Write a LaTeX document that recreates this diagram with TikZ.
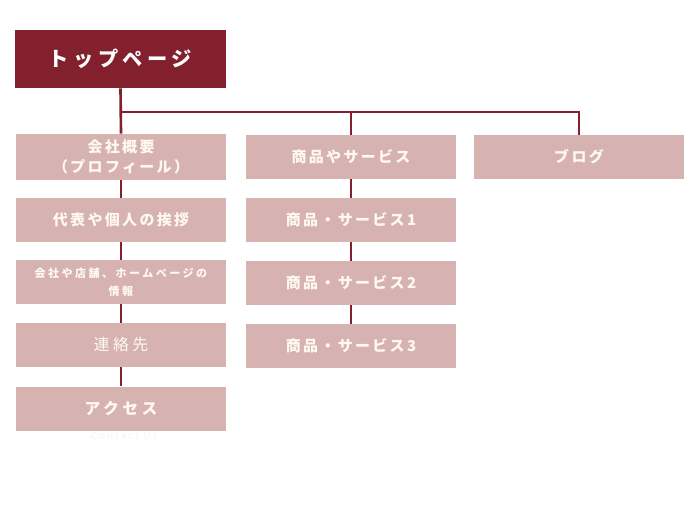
\documentclass[tikz,border=0pt]{standalone}
\usepackage{fontspec}
\usepackage{xcolor}
\usepackage{tikz}
\usetikzlibrary{positioning,calc}
\newfontfamily\jpfont[LetterSpace=22]{Noto Sans CJK JP}
\newfontfamily\jpboxfont[LetterSpace=16]{Noto Sans CJK JP}
\definecolor{wine}{RGB}{130,32,46}
\definecolor{rosegray}{RGB}{214,179,177}
\definecolor{cream}{RGB}{255,249,240}
\definecolor{faintcream}{RGB}{250,243,228}

\begin{document}
\begin{tikzpicture}[
    x=0.02cm, y=-0.02cm,
    top/.style={rectangle, fill=wine, minimum width=4.22cm, minimum height=1.16cm,
                text=white, font=\jpfont\bfseries\fontsize{11.5}{14}\selectfont},
    page/.style={rectangle, fill=rosegray, minimum width=4.22cm, minimum height=0.88cm,
                 text=cream, align=center, font=\jpboxfont\bfseries\fontsize{8.5}{11.4}\selectfont},
    link/.style={draw=wine, line width=1.5pt}
]
\useasboundingbox (0,0) rectangle (700,525);

% Top page
\node[top] (top) at (120.5, 59) {トップページ};
\coordinate (bus) at (0, 112);

% Column 1
\node[page] (c1-1) at (121, 157) {会社概要\\（プロフィール）};
\node[page] (c1-2) at (121, 220) {代表や個人の挨拶};
\node[page, font=\jpfont\bfseries\fontsize{6.3}{10.2}\selectfont] (c1-3) at (121, 282) {会社や店舗、ホームページの\\情報};
\node[page, font=\jpfont\fontsize{9}{12}\selectfont] (c1-4) at (121, 345) {連絡先};
\node[page, font=\jpfont\bfseries\fontsize{9}{12}\selectfont] (c1-5) at (121, 408.5) {アクセス};
\node[text=faintcream, font=\jpfont\fontsize{5.5}{6}\selectfont] (contact) at (124, 436) {Contact Us};

% Column 2
\node[page] (c2-1) at (351, 157) {商品やサービス};
\node[page] (c2-2) at (351, 220) {商品・サービス1};
\node[page] (c2-3) at (351, 283) {商品・サービス2};
\node[page] (c2-4) at (351, 346) {商品・サービス3};

% Column 3
\node[page] (c3-1) at (579, 157) {ブログ};

% Connections
\draw[link] (top.south) -- (c1-1.north);
\draw[link] (top.south |- bus) -| (c3-1.north);
\draw[link] (c2-1.north |- bus) -- (c2-1.north);
\foreach \a/\b in {1/2, 2/3, 3/4, 4/5}
  \draw[link] (c1-\a.south) -- (c1-\b.north);
\foreach \a/\b in {1/2, 2/3, 3/4}
  \draw[link] (c2-\a.south) -- (c2-\b.north);

\end{tikzpicture}
\end{document}
